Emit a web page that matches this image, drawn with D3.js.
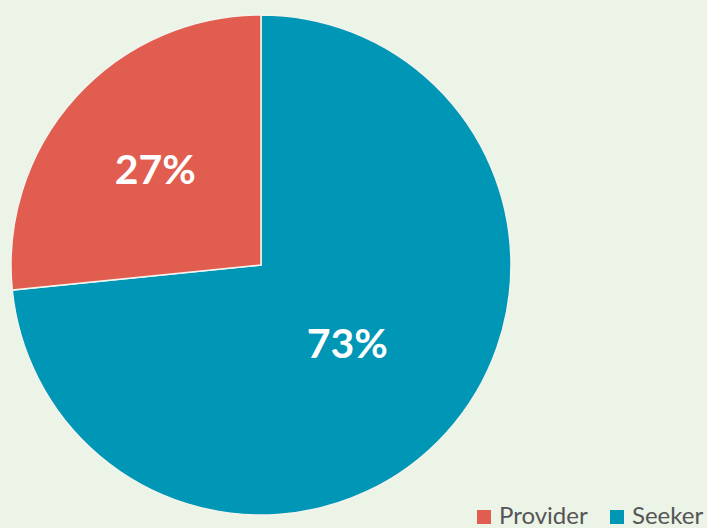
<!DOCTYPE html>
<html>
<head>
<meta charset="utf-8">
<script src="https://cdn.jsdelivr.net/npm/d3@7"></script>
<style>
	body { margin: 0; background: #ecf3e7; }
	svg { display: block; }
</style>
</head>
<body>
<script>
const categories = ["Seeker", "Provider"];
const values = [73.4, 26.6];
const legendOrder = ["Provider", "Seeker"];

const width = 707, height = 528;
const cx = 261, cy = 265, radius = 250;
const colors = { Provider: "#e05d50", Seeker: "#0096b6" };
// label distance from center, as a share of the radius
const labelRadius = { Seeker: 0.465, Provider: 0.57 };

const svg = d3.select("body").append("svg")
	.attr("width", width)
	.attr("height", height);

const pie = d3.pie().sort(null).value(d => d.value);
const data = categories.map((c, i) => ({ name: c, value: values[i] }));
const arcs = pie(data);

const arc = d3.arc().innerRadius(0).outerRadius(radius);

const g = svg.append("g").attr("transform", `translate(${cx},${cy})`);

g.selectAll("path")
	.data(arcs)
	.enter().append("path")
	.attr("d", arc)
	.attr("fill", d => colors[d.data.name])
	.attr("stroke", "#f2f4ee")
	.attr("stroke-width", 1.5);

g.selectAll("text")
	.data(arcs)
	.enter().append("text")
	.attr("transform", d => {
		let r = radius * labelRadius[d.data.name];
		return `translate(${d3.arc().innerRadius(r).outerRadius(r).centroid(d)})`;
	})
	.attr("text-anchor", "middle")
	.attr("dy", "0.36em")
	.attr("font-family", "Lato, 'Open Sans', sans-serif")
	.attr("font-weight", "bold")
	.attr("font-size", 41)
	.attr("fill", "#fff")
	.text(d => d3.format(".0f")(d.data.value) + "%");

// legend
let legend = svg.append("g").attr("font-family", "Lato, 'Open Sans', sans-serif");
let lx = d3.scalePoint().domain(legendOrder).range([477, 610]);

let items = legend.selectAll("g")
	.data(legendOrder)
	.enter().append("g")
	.attr("transform", d => `translate(${lx(d)},510)`);

items.append("rect")
	.attr("width", 14)
	.attr("height", 14)
	.attr("fill", d => colors[d]);

items.append("text")
	.attr("x", 22)
	.attr("y", 14)
	.attr("font-size", 24)
	.attr("fill", "#555")
	.text(d => d);
</script>
</body>
</html>
